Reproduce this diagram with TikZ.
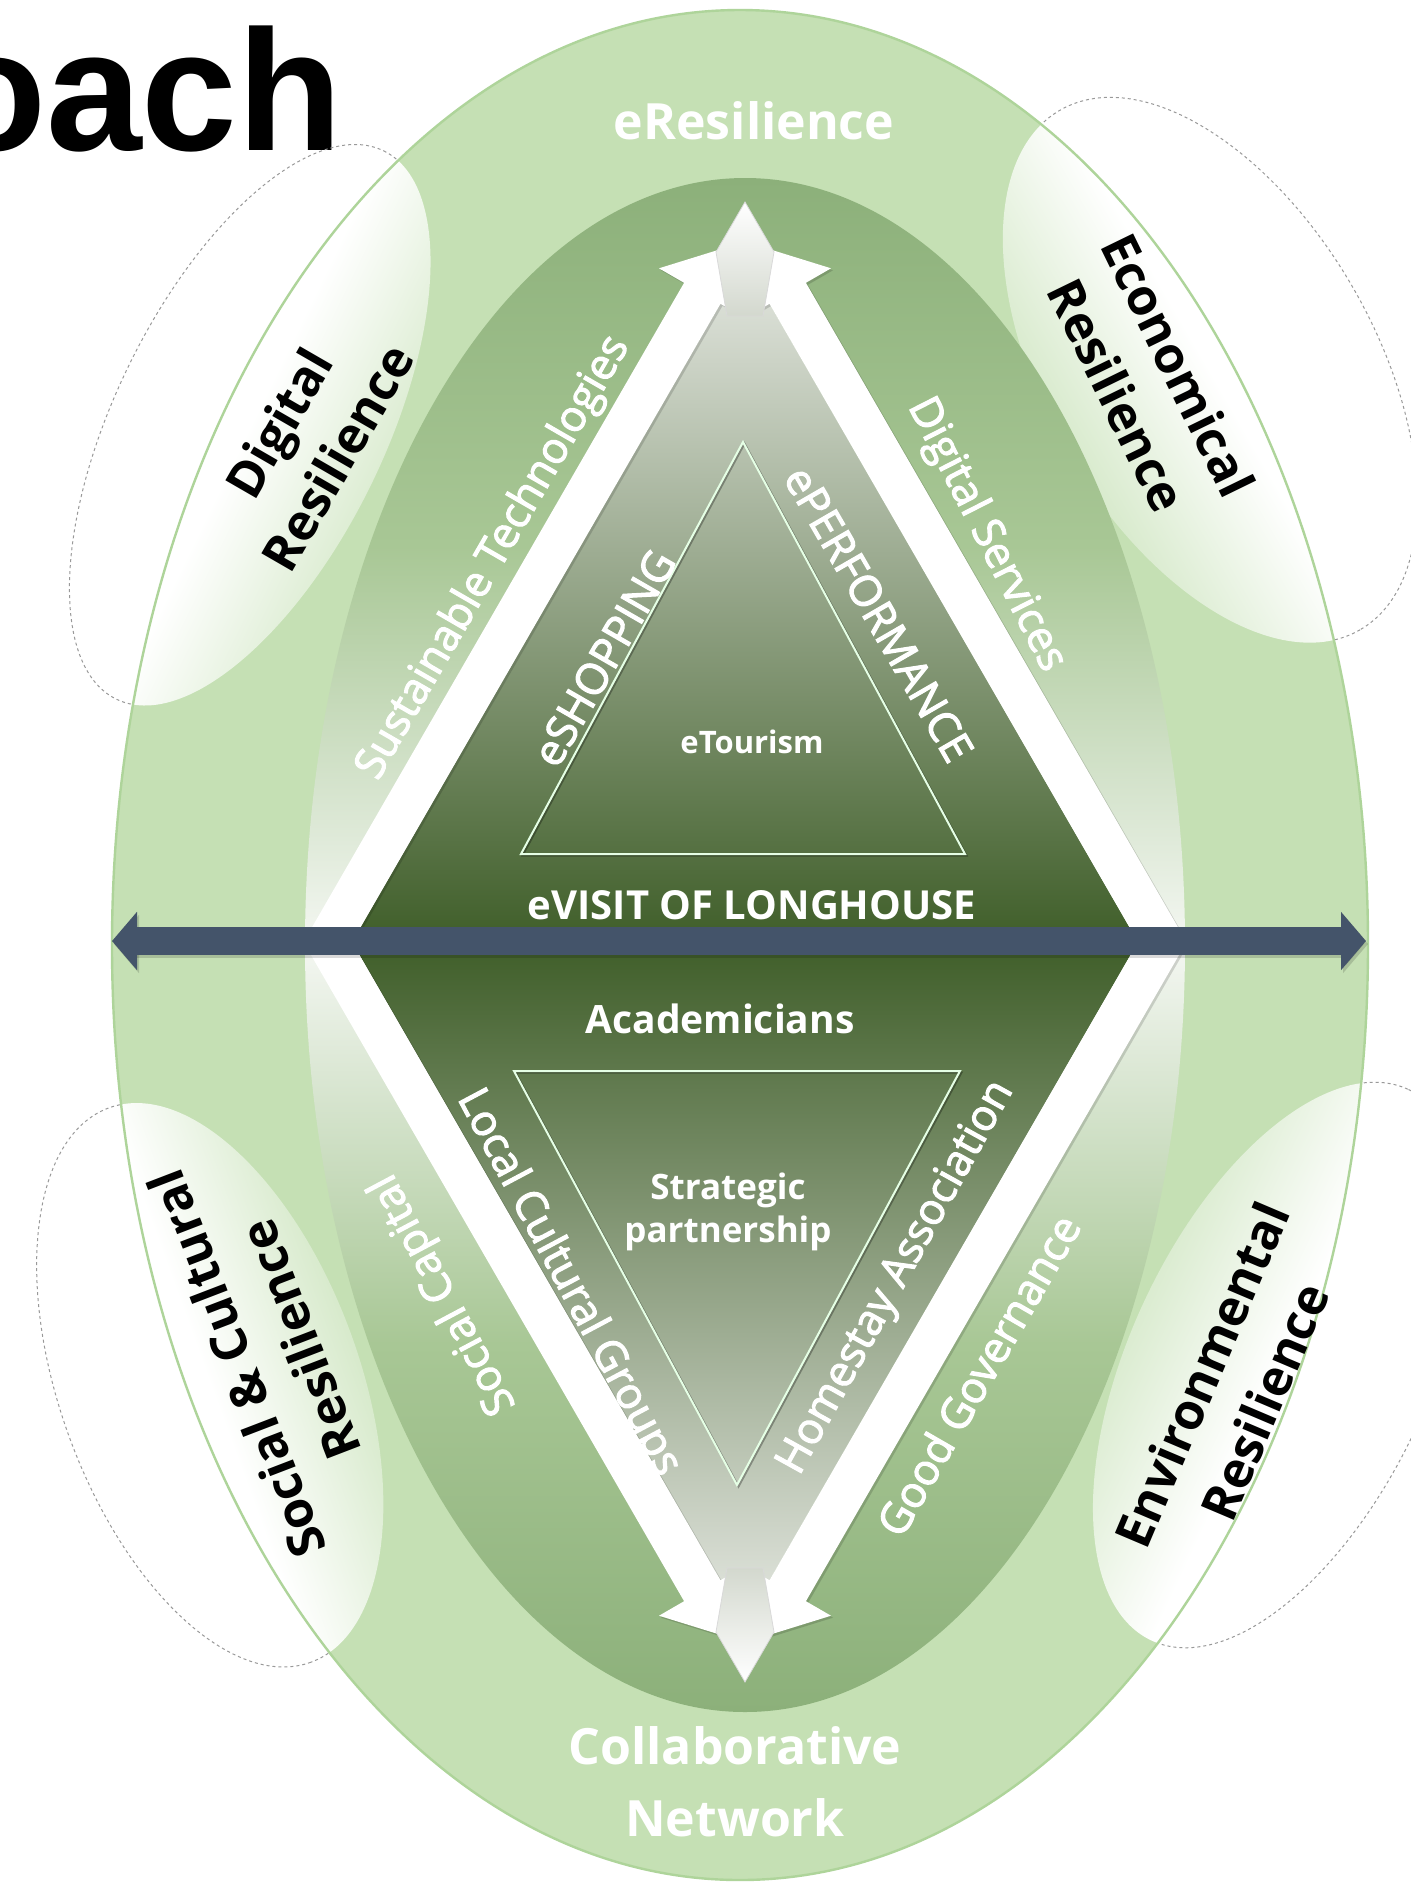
\documentclass[tikz,border=0pt]{standalone}
\usepackage{fontspec}
\setmainfont{Open Sans}
\newfontfamily\arialfont{Liberation Sans}
\newfontfamily\semib[FakeBold=2.5]{Open Sans}
\usetikzlibrary{arrows.meta}
\definecolor{outerG}{HTML}{C5E0B4}
\definecolor{outerLine}{HTML}{AED49A}
\definecolor{innerG}{HTML}{8CB07A}
\definecolor{innerG2}{HTML}{A8C795}
\definecolor{innerMid}{HTML}{D6E4CE}
\definecolor{innerW}{HTML}{F4F7F2}
\definecolor{darkG}{HTML}{3F5E29}
\definecolor{lightGrey}{HTML}{E4E7E1}
\definecolor{slate}{HTML}{44546A}
\definecolor{arrowGrey}{HTML}{D3D8CE}
\pgfdeclareverticalshading{innerell}{100bp}{color(0bp)=(innerG); color(25bp)=(innerG); color(37bp)=(innerG2); color(45bp)=(innerMid); color(50bp)=(innerW); color(55bp)=(innerMid); color(63bp)=(innerG2); color(75bp)=(innerG); color(100bp)=(innerG)}
\begin{document}
\begin{tikzpicture}[x=0.5pt,y=-0.5pt,
  lens/.style={draw=black!40, line width=0.5pt, dash pattern=on 1.5pt off 1.5pt},
  whitearrow/.style={fill=white},
  arrowshadow/.style={fill=black, fill opacity=0.15},
  tri/.style={draw=white!90!green, line width=1pt, line join=miter},
  trishadow/.style={draw=black, draw opacity=0.3, line width=1pt, line join=miter},
  blk/.style={inner sep=0pt, align=center, text=black, font=\bfseries\fontsize{25}{34}\selectfont},
  wlab/.style={inner sep=0pt, align=center, text=white, font=\semib\fontsize{21.5}{26}\selectfont},
  wbold/.style={inner sep=0pt, align=center, text=white, font=\bfseries\fontsize{20}{26}\selectfont},
  grey head/.style={draw=black!15, line width=0.4pt},
]
\useasboundingbox (0,0) rectangle (1411,1887);
\fill[white] (0,0) rectangle (1411,1887);

% title fragment
\node[anchor=base east, inner sep=0pt, font=\arialfont\bfseries\fontsize{86}{90}\selectfont] (title) at (343,150) {oach};

% lens outlines (visible outside the big ellipse)
\draw[lens, rotate around={64:(250,425)}] (250,425) ellipse [x radius=305, y radius=135];
\draw[lens, rotate around={-60:(1210,370)}] (1210,370) ellipse [x radius=300, y radius=165];
\draw[lens, rotate around={65:(1280,1365)}] (1280,1365) ellipse [x radius=304, y radius=150];
\draw[lens, rotate around={-70:(210,1385)}] (210,1385) ellipse [x radius=295, y radius=150];

% outer ellipse
\fill[outerG] (740,945) ellipse [x radius=628, y radius=935];
\begin{scope}
  \clip (740,945) ellipse [x radius=628, y radius=935];
  \shade[rotate around={64:(250,425)}, left color=white, right color=outerG, middle color=white, shading angle=64] (250,425) ellipse [x radius=305, y radius=135];
  \shade[rotate around={-60:(1210,370)}, left color=white, right color=outerG, middle color=white, shading angle=-60] (1210,370) ellipse [x radius=300, y radius=165];
  \shade[rotate around={65:(1280,1365)}, left color=white, right color=outerG, middle color=white, shading angle=-115] (1280,1365) ellipse [x radius=304, y radius=150];
  \shade[rotate around={-70:(210,1385)}, left color=white, right color=outerG, middle color=white, shading angle=110] (210,1385) ellipse [x radius=295, y radius=150];
\end{scope}
\draw[outerLine, line width=1.2pt] (740,945) ellipse [x radius=628, y radius=935];

% inner ellipse
\shade[shading=innerell] (745,945) ellipse [x radius=440, y radius=767];

% diamond interior
\shade[top color=lightGrey, bottom color=lightGrey, middle color=darkG] (745,261) -- (1138,942) -- (745,1623) -- (352,942) -- cycle;

% white arrows (shadows then arrows)
\begin{scope}[shift={(2,2)}]
\fill[arrowshadow] (303.5,942) -- (684.1,282.8) -- (659.0,268.3) -- (729.3,246.5) -- (730.9,309.8) -- (720.5,303.8) -- (352,942) -- cycle;
\fill[arrowshadow] (1186.5,942) -- (805.9,282.8) -- (831.0,268.3) -- (760.7,246.5) -- (759.1,309.8) -- (769.5,303.8) -- (1138,942) -- cycle;
\fill[arrowshadow] (303.5,942) -- (684.1,1601.2) -- (659.0,1615.7) -- (729.3,1637.5) -- (730.9,1574.2) -- (720.5,1580.2) -- (352,942) -- cycle;
\fill[arrowshadow] (1186.5,942) -- (805.9,1601.2) -- (831.0,1615.7) -- (760.7,1637.5) -- (759.1,1574.2) -- (769.5,1580.2) -- (1138,942) -- cycle;
\end{scope}
\fill[whitearrow] (303.5,942) -- (684.1,282.8) -- (659.0,268.3) -- (729.3,246.5) -- (730.9,309.8) -- (720.5,303.8) -- (352,942) -- cycle;
\fill[whitearrow] (1186.5,942) -- (805.9,282.8) -- (831.0,268.3) -- (760.7,246.5) -- (759.1,309.8) -- (769.5,303.8) -- (1138,942) -- cycle;
\fill[whitearrow] (303.5,942) -- (684.1,1601.2) -- (659.0,1615.7) -- (729.3,1637.5) -- (730.9,1574.2) -- (720.5,1580.2) -- (352,942) -- cycle;
\fill[whitearrow] (1186.5,942) -- (805.9,1601.2) -- (831.0,1615.7) -- (760.7,1637.5) -- (759.1,1574.2) -- (769.5,1580.2) -- (1138,942) -- cycle;

% central grey arrowheads
\shade[grey head, top color=white, bottom color=arrowGrey] (745,202) -- (774,252) -- (763,316) -- (727,316) -- (716,252) -- cycle;
\shade[grey head, top color=arrowGrey, bottom color=white] (745,1682) -- (774,1632) -- (763,1568) -- (727,1568) -- (716,1632) -- cycle;

% inner triangles
\draw[trishadow, shift={(1.5,1.5)}] (743,442) -- (965,854) -- (521,854) -- cycle;
\draw[tri] (743,442) -- (965,854) -- (521,854) -- cycle;
\draw[trishadow, shift={(1.5,1.5)}] (514,1071) -- (960,1071) -- (737,1485) -- cycle;
\draw[tri] (514,1071) -- (960,1071) -- (737,1485) -- cycle;

% horizontal double arrow
\coordinate (hl) at (112,941);
\coordinate (hr) at (1366,941);
\draw[black, opacity=0.15, line width=14pt, {Triangle[width=28.5pt,length=12.5pt]}-{Triangle[width=28.5pt,length=12.5pt]}] ([shift={(2,3)}]hl) -- ([shift={(2,3)}]hr);
\draw[slate, line width=14pt, {Triangle[width=28.5pt,length=12.5pt]}-{Triangle[width=28.5pt,length=12.5pt]}] (hl) -- (hr);

% texts
\node[wbold, font=\bfseries\fontsize{25}{30}\selectfont] (eres) at (754,121) {eResilience};
\node[wbold, font=\bfseries\fontsize{25}{36}\selectfont] (collab) at (735,1782) {Collaborative\\Network};
\node[blk, rotate=60] (digres) at (308,440) {Digital\\Resilience};
\node[blk, rotate=-64] (ecores) at (1148,380) {Economical\\Resilience};
\node[blk, rotate=111] (socres) at (268,1352) {Social \& Cultural\\Resilience};
\node[blk, rotate=67] (envres) at (1233,1388) {Environmental\\Resilience};
\node[wlab, rotate=60] (sustech) at (494,558) {Sustainable Technologies};
\node[wlab, rotate=-63] (digserv) at (986,535) {Digital Services};
\node[wlab, rotate=60] (eshop) at (604,658) {eSHOPPING};
\node[wlab, rotate=-60] (eperf) at (879,614) {ePERFORMANCE};
\node[wbold, font=\bfseries\fontsize{15.5}{20}\selectfont] (etour) at (752,742) {eTourism};
\node[wbold] (evisit) at (752,905) {eVISIT OF LONGHOUSE};
\node[wbold, font=\bfseries\fontsize{19.5}{24}\selectfont] (acad) at (720,1019) {Academicians};
\node[wbold, font=\bfseries\fontsize{17.5}{21.5}\selectfont] (strat) at (728,1212) {Strategic\\partnership};
\node[wlab, rotate=-62] (local) at (568,1283) {Local Cultural Groups};
\node[wlab, rotate=61] (home) at (897,1278) {Homestay Association};
\node[wlab, rotate=118] (soccap) at (444,1294) {Social Capital};
\node[wlab, rotate=60] (goodgov) at (978,1375) {Good Governance};
\end{tikzpicture}
\end{document}
